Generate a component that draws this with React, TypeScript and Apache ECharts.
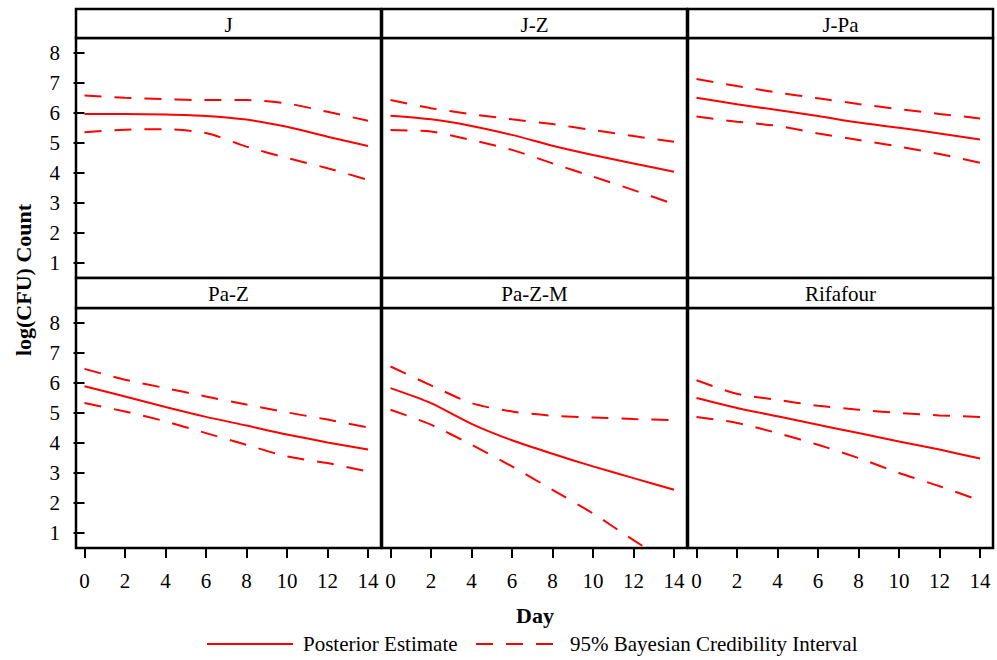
import React, { useEffect, useRef } from "react";
import * as echarts from "echarts";

const panelNames = ["J", "J-Z", "J-Pa", "Pa-Z", "Pa-Z-M", "Rifafour"];
const days = [0, 2, 4, 6, 8, 10, 12, 14];
const xTicks = [0, 2, 4, 6, 8, 10, 12, 14];
const yTicks = [1, 2, 3, 4, 5, 6, 7, 8];

const estJ = [5.97, 5.97, 5.95, 5.9, 5.78, 5.54, 5.21, 4.9];
const upJ = [6.58, 6.51, 6.46, 6.43, 6.43, 6.32, 6.04, 5.74];
const loJ = [5.36, 5.44, 5.46, 5.33, 4.88, 4.5, 4.16, 3.77];

const estJZ = [5.91, 5.79, 5.57, 5.27, 4.91, 4.6, 4.32, 4.04];
const upJZ = [6.43, 6.16, 5.96, 5.79, 5.63, 5.43, 5.23, 5.04];
const loJZ = [5.43, 5.38, 5.1, 4.77, 4.32, 3.88, 3.43, 2.96];

const estJPa = [6.51, 6.29, 6.1, 5.9, 5.68, 5.51, 5.32, 5.12];
const upJPa = [7.13, 6.9, 6.68, 6.49, 6.3, 6.13, 5.97, 5.82];
const loJPa = [5.88, 5.71, 5.57, 5.32, 5.1, 4.88, 4.63, 4.34];

const estPaZ = [5.89, 5.55, 5.2, 4.87, 4.58, 4.28, 4.02, 3.78];
const upPaZ = [6.47, 6.11, 5.83, 5.55, 5.28, 5.02, 4.78, 4.52];
const loPaZ = [5.33, 5.05, 4.72, 4.33, 3.94, 3.55, 3.33, 3.05];

const estPaZM = [5.83, 5.33, 4.64, 4.09, 3.64, 3.22, 2.83, 2.44];
const upPaZM = [6.55, 5.92, 5.33, 5.05, 4.91, 4.85, 4.8, 4.76];
const loPaZM = [5.11, 4.61, 3.94, 3.22, 2.44, 1.65, 0.76, -0.1];

const estRif = [5.5, 5.17, 4.89, 4.61, 4.33, 4.05, 3.78, 3.48];
const upRif = [6.09, 5.64, 5.44, 5.24, 5.11, 5.0, 4.92, 4.87];
const loRif = [4.87, 4.67, 4.33, 3.94, 3.5, 3.0, 2.56, 2.08];

const estimates = [estJ, estJZ, estJPa, estPaZ, estPaZM, estRif];
const uppers = [upJ, upJZ, upJPa, upPaZ, upPaZM, upRif];
const lowers = [loJ, loJZ, loJPa, loPaZ, loPaZM, loRif];

const legendNames = ["Posterior Estimate", "95% Bayesian Credibility Interval"];

const RED = "#ff0000";
const SERIF = "Liberation Serif";

export default function App() {
  const ref = useRef<HTMLDivElement>(null);

  useEffect(() => {
    if (!ref.current) return;
    const chart = echarts.init(ref.current, null, { renderer: "svg" });

    const colLeft = [76, 382, 688];
    const colWidth = 305;
    const rowTop = [38, 308];
    const rowHeight = 240;
    const headerTop = [9, 278];

    const grids: any[] = [];
    const xAxes: any[] = [];
    const yAxes: any[] = [];
    const series: any[] = [];
    const graphics: any[] = [];

    const toPairs = (arr: number[]) => arr.map((v, i) => [days[i], v]);

    for (let p = 0; p < 6; p++) {
      const r = Math.floor(p / 3);
      const c = p % 3;
      grids.push({
        left: colLeft[c],
        top: rowTop[r],
        width: colWidth,
        height: rowHeight,
        show: true,
        borderColor: "#000",
        borderWidth: 2.5,
        backgroundColor: "transparent",
      });
      const bottomRow = r === 1;
      const leftCol = c === 0;
      xAxes.push({
        type: "value",
        gridIndex: p,
        min: -0.42,
        max: 14.64,
        axisLine: { show: false },
        splitLine: { show: false },
        axisTick: {
          show: bottomRow,
          length: 10,
          customValues: xTicks,
          lineStyle: { color: "#000", width: 2 },
        },
        axisLabel: {
          show: bottomRow,
          customValues: xTicks,
          margin: 22,
          color: "#000",
          fontFamily: SERIF,
          fontSize: 21,
        },
      });
      yAxes.push({
        type: "value",
        gridIndex: p,
        min: 0.5,
        max: 8.5,
        axisLine: { show: false },
        splitLine: { show: false },
        axisTick: {
          show: leftCol,
          length: 11,
          customValues: yTicks,
          lineStyle: { color: "#000", width: 2 },
        },
        axisLabel: {
          show: leftCol,
          customValues: yTicks,
          margin: 16,
          color: "#000",
          fontFamily: SERIF,
          fontSize: 21,
        },
      });
      series.push({
        type: "line",
        name: legendNames[0],
        xAxisIndex: p,
        yAxisIndex: p,
        data: toPairs(estimates[p]),
        showSymbol: false,
        smooth: 0.25,
        clip: true,
        lineStyle: { color: RED, width: 2 },
        itemStyle: { color: RED },
      });
      series.push({
        type: "line",
        name: legendNames[1],
        xAxisIndex: p,
        yAxisIndex: p,
        data: toPairs(uppers[p]),
        showSymbol: false,
        smooth: 0.25,
        clip: true,
        lineStyle: { color: RED, width: 2, type: [17, 13] },
        itemStyle: { color: RED },
      });
      series.push({
        type: "line",
        name: legendNames[1],
        xAxisIndex: p,
        yAxisIndex: p,
        data: toPairs(lowers[p]),
        showSymbol: false,
        smooth: 0.25,
        clip: true,
        lineStyle: { color: RED, width: 2, type: [17, 13] },
        itemStyle: { color: RED },
      });

      graphics.push({
        type: "rect",
        shape: { x: colLeft[c], y: headerTop[r], width: colWidth, height: rowTop[r] - headerTop[r] },
        style: { fill: "#fff", stroke: "#000", lineWidth: 2.5 },
        z: 10,
      });
      graphics.push({
        type: "text",
        x: colLeft[c] + colWidth / 2,
        y: (headerTop[r] + rowTop[r]) / 2 + 1,
        style: {
          text: panelNames[p],
          fontFamily: SERIF,
          fontSize: 21,
          fill: "#000",
          align: "center",
          verticalAlign: "middle",
        },
        z: 11,
      });
    }

    graphics.push({
      type: "text",
      x: 23,
      y: 280,
      rotation: Math.PI / 2,
      style: {
        text: "log(CFU) Count",
        fontFamily: SERIF,
        fontWeight: "bold",
        fontSize: 22,
        fill: "#000",
        align: "center",
        verticalAlign: "middle",
      },
    });
    graphics.push({
      type: "text",
      x: 535,
      y: 615,
      style: {
        text: "Day",
        fontFamily: SERIF,
        fontWeight: "bold",
        fontSize: 22,
        fill: "#000",
        align: "center",
        verticalAlign: "middle",
      },
    });

    graphics.push({
      type: "line",
      shape: { x1: 207, y1: 644, x2: 293, y2: 644 },
      style: { stroke: RED, lineWidth: 2 },
    });
    graphics.push({
      type: "text",
      x: 303,
      y: 644,
      style: {
        text: legendNames[0],
        fontFamily: SERIF,
        fontSize: 21,
        fill: "#000",
        align: "left",
        verticalAlign: "middle",
      },
    });
    graphics.push({
      type: "line",
      shape: { x1: 476, y1: 644, x2: 553, y2: 644 },
      style: { stroke: RED, lineWidth: 2, lineDash: [17, 13] },
    });
    graphics.push({
      type: "text",
      x: 570,
      y: 644,
      style: {
        text: legendNames[1],
        fontFamily: SERIF,
        fontSize: 21,
        fill: "#000",
        align: "left",
        verticalAlign: "middle",
      },
    });

    chart.setOption({
      animation: false,
      backgroundColor: "#fff",
      grid: grids,
      xAxis: xAxes,
      yAxis: yAxes,
      series,
      graphic: graphics,
    });

    return () => {
      chart.dispose();
    };
  }, []);

  return (
    <div
      ref={ref}
      style={{ position: "absolute", left: 0, top: 0, width: 997, height: 660, background: "#fff" }}
    />
  );
}
